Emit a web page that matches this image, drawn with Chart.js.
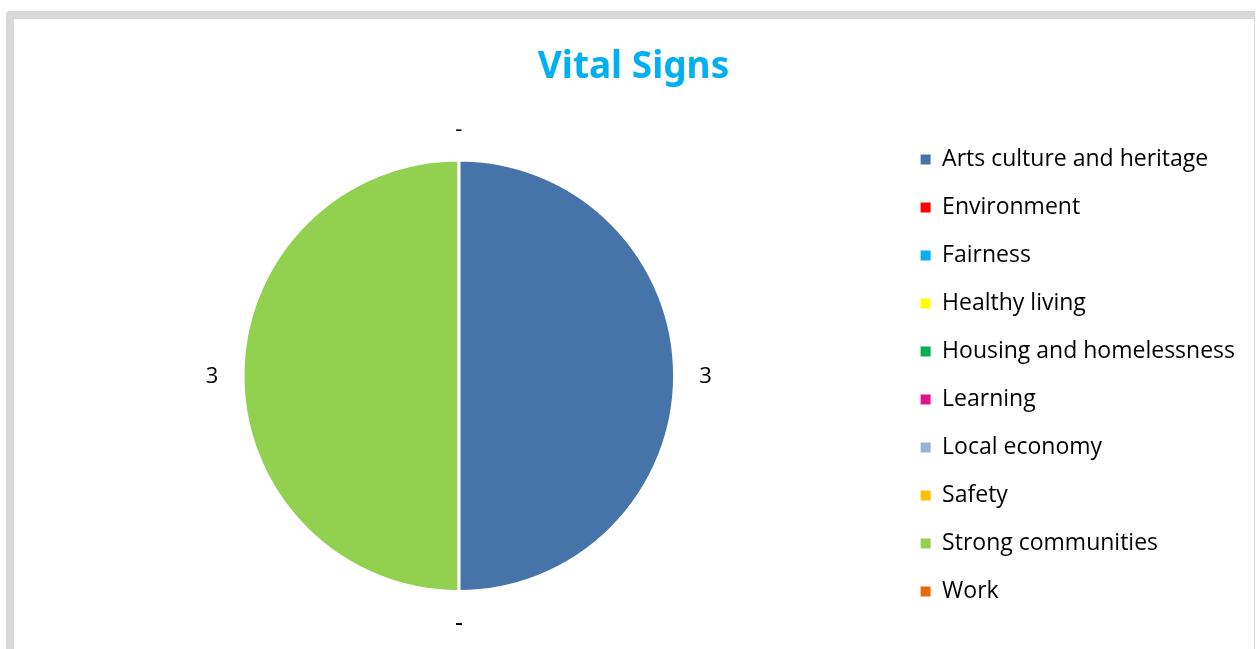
<!DOCTYPE html>
<html>
<head>
<title>Vital Signs</title>
<script src="https://cdn.jsdelivr.net/npm/chart.js@4.4.0/dist/chart.umd.min.js"></script>
<style>
  html, body { margin: 0; padding: 0; background: #fff; width: 1256px; height: 649px; overflow: hidden; }
  .frame {
    position: absolute; left: 6px; top: 11px; width: 1240px; height: 700px;
    border-left: 8px solid #d9d9d9; border-top: 8px solid #d9d9d9; border-right: 1px solid #d9d9d9;
    border-top-left-radius: 4px;
  }
  .chart { position: absolute; left: 0; top: 0; width: 1256px; height: 649px; }
</style>
</head>
<body>
<div class="frame"></div>
<div class="chart"><canvas id="myChart" width="1256" height="649"></canvas></div>
<script>
  var categories = ['Arts culture and heritage', 'Environment', 'Fairness', 'Healthy living',
    'Housing and homelessness', 'Learning', 'Local economy', 'Safety', 'Strong communities', 'Work'];
  var counts = [3, 0, 0, 0, 0, 0, 0, 0, 3, 0];
  var colours = ['#4673a8', '#ff0000', '#00b0f0', '#ffff00', '#00b050',
    '#e2138c', '#95b3d7', '#ffc000', '#92d050', '#e46c0a'];

  // labels outside each slice, zero shown as "-"
  var outsideLabels = {
    id: 'outsideLabels',
    afterLayout: function(chart) {
      // push the legend block down so it sits level with the pie
      chart.legend.top += 69;
      chart.legend.bottom += 69;
    },
    afterDatasetsDraw: function(chart) {
      var ctx = chart.ctx;
      var meta = chart.getDatasetMeta(0);
      ctx.save();
      ctx.font = '22px "Open Sans", sans-serif';
      ctx.fillStyle = '#000';
      ctx.textAlign = 'center';
      ctx.textBaseline = 'middle';
      meta.data.forEach(function(arc, i) {
        var p = arc.getProps(['x', 'y', 'startAngle', 'endAngle', 'outerRadius'], true);
        var mid = (p.startAngle + p.endAngle) / 2;
        var r = p.outerRadius + 31;
        var v = counts[i];
        ctx.fillText(v === 0 ? '-' : String(v), p.x + Math.cos(mid) * r, p.y + 1 + Math.sin(mid) * r);
      });
      ctx.restore();
    }
  };

  var ctx = document.getElementById('myChart').getContext('2d');
  var myChart = new Chart(ctx, {
    type: 'pie',
    data: {
      labels: categories,
      datasets: [{
        data: counts,
        backgroundColor: colours,
        borderColor: '#ffffff',
        borderWidth: 3
      }]
    },
    options: {
      responsive: false,
      animation: false,
      layout: { padding: { top: 20, bottom: 56, left: 22, right: 11 } },
      plugins: {
        title: {
          display: true,
          text: 'Vital Signs',
          color: '#00b0f0',
          font: { family: '"Noto Sans", sans-serif', size: 37, weight: 'bold' },
          padding: { top: 25, bottom: 69 }
        },
        legend: {
          display: true,
          position: 'right',
          labels: {
            color: '#000',
            boxWidth: 10,
            boxHeight: 10,
            padding: 25,
            font: { family: '"Open Sans", sans-serif', size: 23 },
            generateLabels: function(chart) {
              var items = Chart.PieController.overrides.plugins.legend.labels.generateLabels(chart);
              items.forEach(function(it) { it.lineWidth = 0; it.strokeStyle = it.fillStyle; });
              return items;
            }
          }
        },
        tooltip: { enabled: false }
      }
    },
    plugins: [outsideLabels]
  });
</script>
</body>
</html>
